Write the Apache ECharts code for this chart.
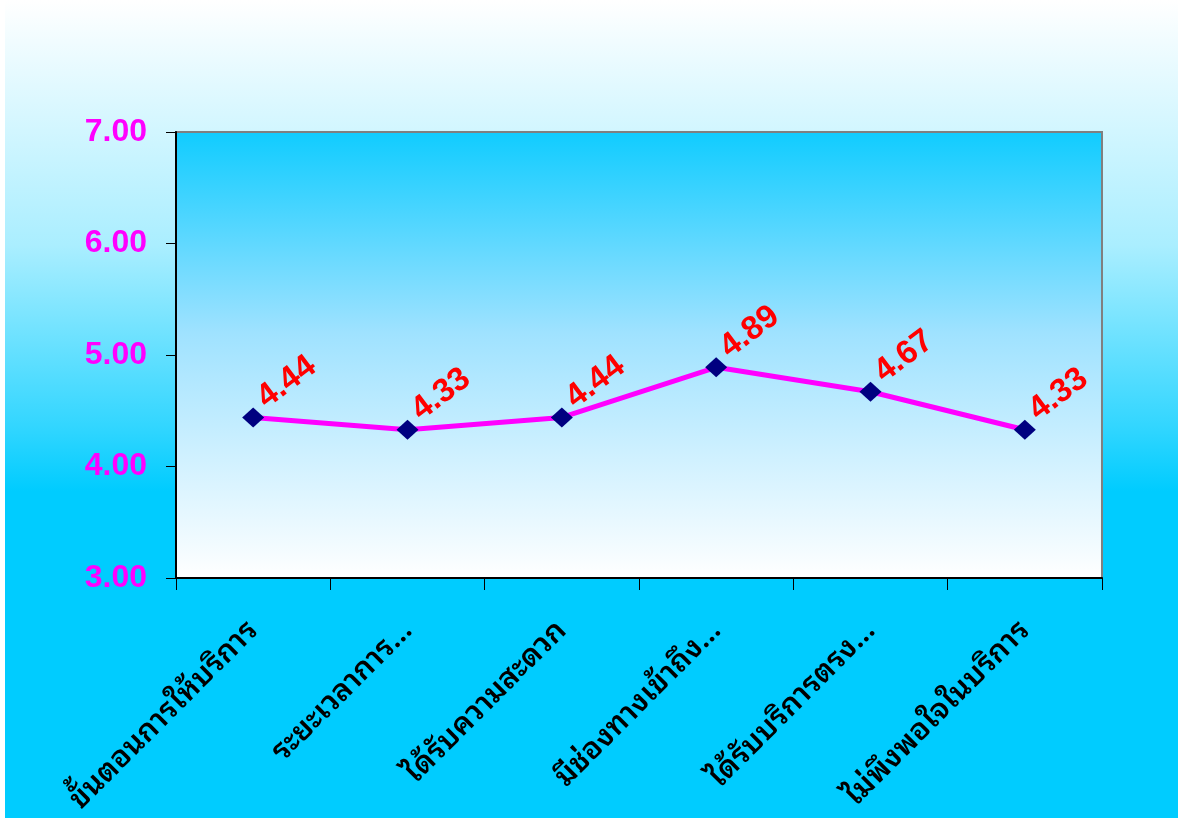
<!DOCTYPE html>
<html>
<head>
<meta charset="utf-8">
<script src="https://cdn.jsdelivr.net/npm/echarts@6/dist/echarts.min.js"></script>
<style>
html,body{margin:0;padding:0;width:1178px;height:818px;overflow:hidden;}
body{background:#fff;}
#wrap{position:absolute;left:5px;top:0;width:1173px;height:818px;
background:linear-gradient(to bottom,#ffffff 0%,#aaeeff 30%,#33d6ff 52%,#00ccff 60%,#00ccff 100%);}
#chart{position:absolute;left:-5px;top:0;width:1178px;height:818px;}
</style>
</head>
<body>
<div id="wrap"><div id="chart"></div></div>
<script>
const categories = ["ขั้นตอนการให้บริการ","ระยะเวลาการ…","ได้รับความสะดวก","มีช่องทางเข้าถึง…","ได้รับบริการตรง…","ไม่พึงพอใจในบริการ"];
const values = [4.44, 4.33, 4.44, 4.89, 4.67, 4.33];
const yMin = 3, yMax = 7, yStep = 1;

const chart = echarts.init(document.getElementById('chart'), null, {renderer:'canvas'});
chart.setOption({
  backgroundColor:'transparent',
  animation:false,
  grid:{left:176,right:76,top:132,bottom:240,show:true,borderColor:'#808080',borderWidth:2,
    backgroundColor:new echarts.graphic.LinearGradient(0,0,0,1,[
      {offset:0,color:'#10ccff'},{offset:0.45,color:'#9fe2ff'},{offset:1,color:'#ffffff'}])},
  xAxis:{type:'category',data:categories,boundaryGap:true,
    axisLine:{show:true,lineStyle:{color:'#000',width:2}},
    axisTick:{show:true,length:12,lineStyle:{color:'#000',width:1}},
    axisLabel:{rotate:45,margin:48,color:'#000',fontSize:30,fontWeight:600,interval:0,
      fontFamily:'"Noto Sans Thai Looped","Noto Serif Thai","Norasi","Tlwg Typo","Loma","Garuda","Kinnari","Laksaman","Waree","Sawasdee",serif'},
    splitLine:{show:false}},
  yAxis:{type:'value',min:yMin,max:yMax,interval:yStep,
    axisLine:{show:true,lineStyle:{color:'#000',width:2}},
    axisTick:{show:true,length:10,lineStyle:{color:'#000',width:1}},
    axisLabel:{color:'#ff00ff',fontSize:32,fontWeight:'bold',margin:29,fontFamily:'Liberation Sans, Arial, sans-serif',
      formatter:v=>v.toFixed(2)},
    splitLine:{show:false}},
  series:[{type:'line',data:values,symbol:'diamond',symbolSize:[22,20],
    lineStyle:{color:'#ff00ff',width:5},
    itemStyle:{color:'#000080'},
    label:{show:true,position:'right',distance:9,rotate:37,offset:[0,-20],color:'#ff0000',fontSize:33,fontWeight:'bold',
      fontFamily:'Liberation Sans, Arial, sans-serif',formatter:p=>p.value.toFixed(2)}}]
});
</script>
</body>
</html>
